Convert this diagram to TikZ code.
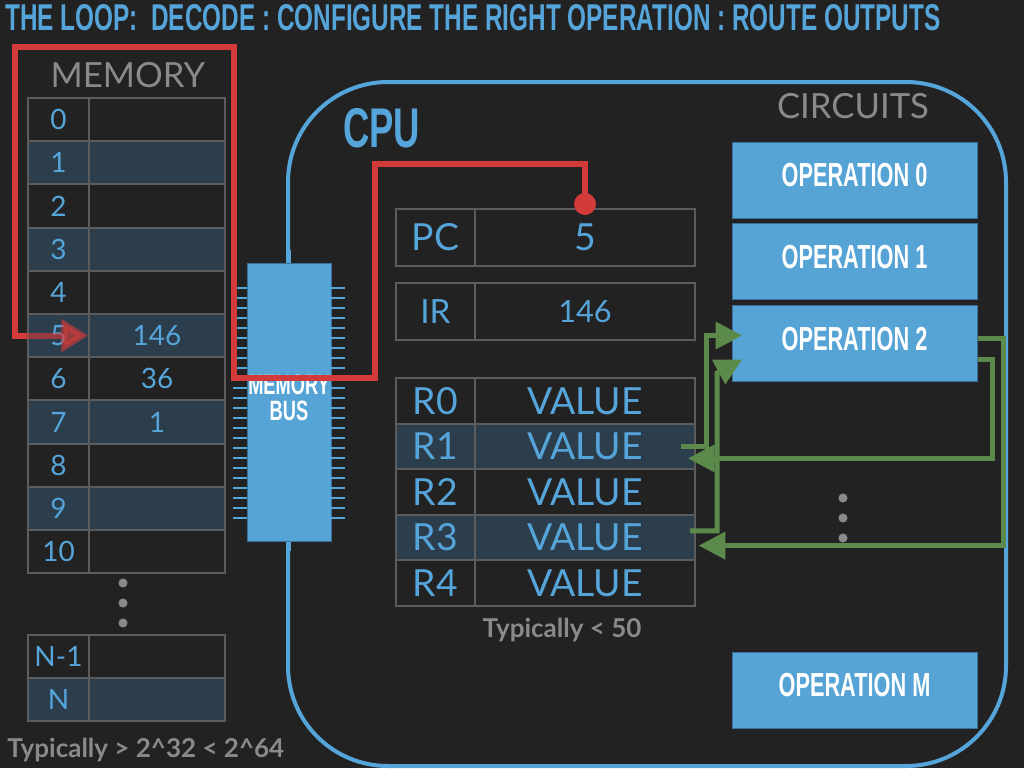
\documentclass[tikz,border=0pt]{standalone}
\usepackage{fontspec}
\setmainfont{Lato}
\newfontfamily\dinfont[FakeStretch=0.652]{Liberation Sans Bold}
\usetikzlibrary{arrows.meta,calc}
\definecolor{bgdark}{HTML}{222222}
\definecolor{slideblue}{HTML}{56A5DA}
\definecolor{cellshade}{HTML}{2C3D4C}
\definecolor{gridgray}{HTML}{5C5C5C}
\definecolor{textgray}{HTML}{8A8A8A}
\definecolor{loopred}{HTML}{D33B3B}
\definecolor{routegreen}{HTML}{5C8A4B}
\definecolor{opblue}{HTML}{56A3D6}
\definecolor{opedge}{HTML}{3D7099}

\begin{document}
\begin{tikzpicture}[x=0.75pt,y=-0.75pt,
  idxcell/.style={draw=gridgray,line width=1.5pt,inner sep=0pt,minimum width=45.75pt,minimum height=32.4pt,text=slideblue,font=\fontsize{21}{21}\selectfont},
  valcell/.style={idxcell,minimum width=102pt},
  reglabel/.style={draw=gridgray,line width=1.5pt,inner sep=0pt,minimum width=59.25pt,minimum height=34.2pt,text=slideblue,font=\fontsize{28}{28}\selectfont},
  regval/.style={reglabel,minimum width=165pt},
  opbox/.style={draw=opedge,line width=0.75pt,fill=opblue,minimum width=183.75pt,minimum height=57pt,inner sep=0pt,text depth=7.5pt,text=white,font=\dinfont\fontsize{25}{25}\selectfont},
  chip/.style={draw=opedge,line width=0.75pt,fill=opblue,minimum width=63pt,minimum height=208.5pt,inner sep=0pt},
  pin/.style={slideblue,line width=1.5pt},
  redline/.style={draw=loopred,line width=4.5pt},
  reddot/.style={circle,fill=loopred,inner sep=0pt,minimum size=16.5pt},
  greenarrow/.style={draw=routegreen,line width=3.75pt,-{Triangle[length=20pt,width=20pt]}},
  graylabel/.style={text=textgray,inner sep=0pt}]
  \useasboundingbox (0,0) rectangle (1024,768);
  \fill[bgdark] (0,0) rectangle (1024,768);

  %title
  \node[anchor=base west,inner sep=0pt,text=slideblue,font=\dinfont\fontsize{28}{28}\selectfont] (title) at (5,30)
    {THE LOOP:~ DECODE : CONFIGURE THE RIGHT OPERATION : ROUTE OUTPUTS};

  %cpu outline
  \draw[slideblue,line width=3pt,rounded corners=75pt] (288,82) rectangle (1006,766);
  \node[anchor=base west,inner sep=0pt,text=slideblue,font=\dinfont\fontsize{42}{42}\selectfont] (cpu) at (343,147) {CPU};
  \node[graylabel,anchor=base,font=\fontsize{26}{26}\selectfont] (circuits) at (853,118) {CIRCUITS};

  %memory table
  \node[graylabel,anchor=base,font=\fontsize{26}{26}\selectfont] (memory) at (128,87) {MEMORY};
  \foreach \i/\val in {0/{},1/{},2/{},3/{},4/{},5/146,6/36,7/1,8/{},9/{},10/{}} {
    \ifodd\i \def\rowfill{cellshade}\else \def\rowfill{bgdark}\fi
    \node[idxcell,fill=\rowfill] (m\i) at (58.5,{98+43.2*(\i+0.5)}) {\i};
    \node[valcell,fill=\rowfill] (v\i) at (157,{98+43.2*(\i+0.5)}) {\val};
  }
  \foreach \k in {0,1,2}
    \fill[textgray] (123,{583+20*\k}) circle (3.4pt);
  \node[idxcell,fill=bgdark] (mn1) at (58.5,656.5) {N-1};
  \node[valcell,fill=bgdark] (vn1) at (157,656.5) {};
  \node[idxcell,fill=cellshade] (mn) at (58.5,699.5) {N};
  \node[valcell,fill=cellshade] (vn) at (157,699.5) {};
  \node[graylabel,anchor=base west,font=\bfseries\fontsize{19.5}{19.5}\selectfont] (memsize) at (7,757)
    {Typically > 2\textasciicircum 32 < 2\textasciicircum 64};

  %memory bus chip
  \node[chip] (bus) at (289,402) {};
  \foreach \k in {0,...,23} {
    \draw[pin] (233,{288+10*\k}) -- (247,{288+10*\k});
    \draw[pin] (331,{288+10*\k}) -- (345,{288+10*\k});
  }
  \draw[slideblue,line width=3pt] (bus.north) -- ++(0,-13);
  \draw[slideblue,line width=3pt] (bus.south) -- ++(0,9);
  \node[align=center,inner sep=0pt,text=white,font=\dinfont\fontsize{21}{20}\selectfont] (bustext) at (289,398) {MEMORY\\BUS};

  %registers
  \node[reglabel] (pcl) at (435.5,237.5) [minimum height=42.75pt] {PC};
  \node[regval] (pcv) at (585,237.5) [minimum height=42.75pt] {5};
  \node[reglabel,font=\fontsize{25}{25}\selectfont] (irl) at (435.5,311.5) [minimum height=42.75pt] {IR};
  \node[regval,font=\fontsize{23}{23}\selectfont] (irv) at (585,311.5) [minimum height=42.75pt] {146};
  \foreach \i in {0,...,4} {
    \ifodd\i \def\rowfill{cellshade}\else \def\rowfill{bgdark}\fi
    \node[reglabel,fill=\rowfill] (rl\i) at (435.5,{378+45.6*(\i+0.5)}) {R\i};
    \node[regval,fill=\rowfill] (rv\i) at (585,{378+45.6*(\i+0.5)}) {VALUE};
  }
  \node[graylabel,anchor=base,font=\bfseries\fontsize{19.5}{19.5}\selectfont] (regsize) at (562,637) {Typically < 50};

  %fetch loop
  \node[reddot] (pcdot) at ([yshift=3pt]pcv.north) {};
  \draw[redline] (pcdot.center) -- ++(0,-40) -| (375,378) -| (234,47) -| ($(m5.west)+(-12,0)$) -- (m5.west);
  \draw[redline,opacity=.65,-{Triangle[length=20pt,width=24pt]}] (m5.west) -- (v5.west);

  %circuits
  \node[opbox] (op0) at (854.5,180) {OPERATION 0};
  \node[opbox] (op1) at (854.5,261.5) {OPERATION 1};
  \node[opbox] (op2) at (854.5,343.5) {OPERATION 2};
  \node[opbox] (opm) at (854.5,690) {OPERATION M};
  \foreach \k in {0,1,2}
    \fill[textgray] (843,{498+20*\k}) circle (3.4pt);

  %routing
  \draw[greenarrow] ([xshift=-11pt]rv1.east) -- ++(25,0) |- ([xshift=8pt,yshift=6pt]op2.west);
  \draw[greenarrow] ([xshift=-4.5pt,yshift=5pt]rv3.east) -- ++(27,0) -- ++(0,-158) -- ([xshift=8pt,yshift=-12pt]op2.west);
  \draw[greenarrow] ([yshift=-12pt]op2.east) -- ++(15,0) |- ([xshift=-6pt,yshift=-9pt]rv1.east);
  \draw[greenarrow] ([yshift=4pt]op2.east) -- ++(26,0) |- ([xshift=2pt,yshift=-6pt]rv3.east);
\end{tikzpicture}
\end{document}
